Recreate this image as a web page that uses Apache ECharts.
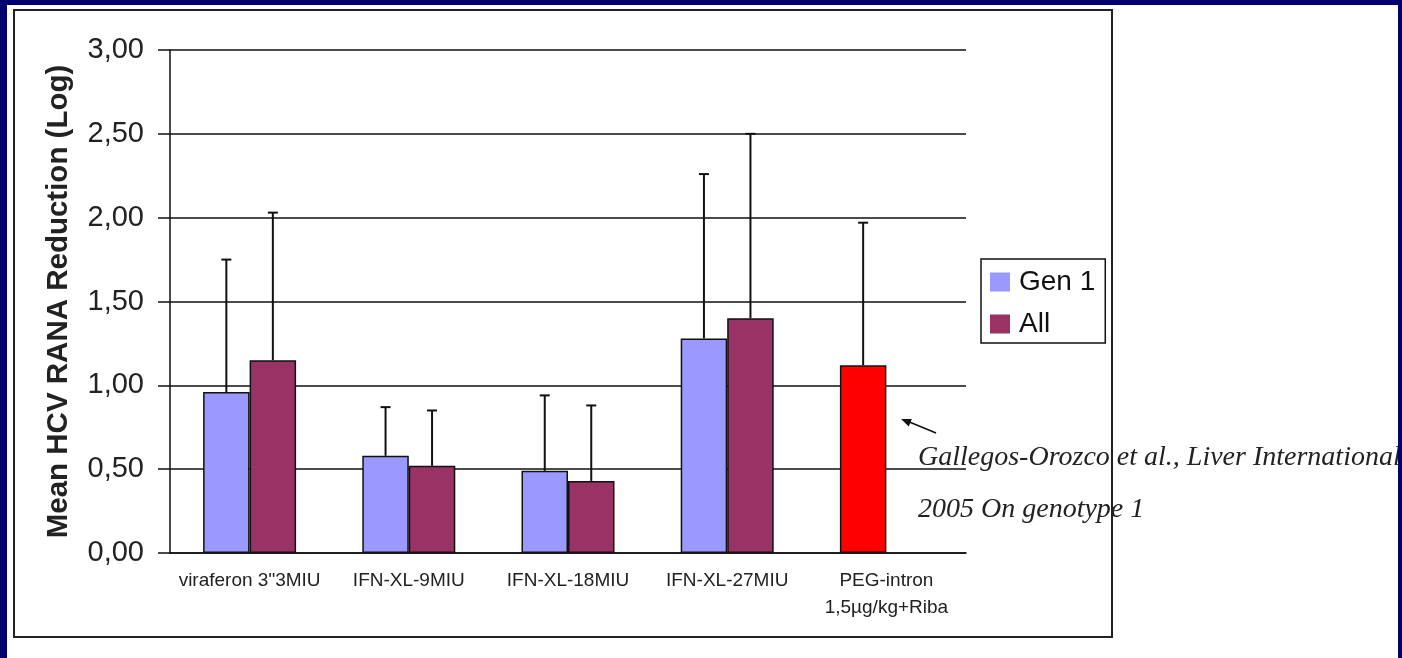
<!DOCTYPE html>
<html lang="en">
<head>
    <meta charset="UTF-8">
    <title>Mean HCV RANA Reduction</title>
    <script src="https://cdn.jsdelivr.net/npm/echarts/dist/echarts.min.js"></script>
    <style>
        body { margin: 0; background: #fff; }
        #chart { position: absolute; left: 0; top: 0; width: 1402px; height: 658px; }
        .navy { position: absolute; background: #000070; pointer-events: none; z-index: 5; }
    </style>
</head>
<body>
    <div id="chart"></div>
    <div class="navy" style="left:0;top:0;width:1402px;height:5px;"></div>
    <div class="navy" style="left:0;top:0;width:7px;height:658px;"></div>
    <div class="navy" style="left:1398px;top:0;width:4px;height:658px;"></div>

    <script>
        // values
        const categories = ['viraferon 3"3MIU', 'IFN-XL-9MIU', 'IFN-XL-18MIU', 'IFN-XL-27MIU', 'PEG-intron\n1,5µg/kg+Riba'];
        const gen1Values = [0.96, 0.58, 0.49, 1.28, 1.12];
        const allValues = [1.15, 0.52, 0.43, 1.40, null];
        // upper end of the error bars
        const gen1Upper = [1.75, 0.87, 0.94, 2.26, 1.97];
        const allUpper = [2.03, 0.85, 0.88, 2.50, null];
        const yTicks = [0, 0.5, 1, 1.5, 2, 2.5, 3];
        const redIndex = 4;

        const BAR_W = 46.5;

        let chart = echarts.init(document.getElementById('chart'));

        function errorBars(side) {
            return function (params, api) {
                let idx = api.value(0);
                let top = api.value(2);
                let p0 = api.coord([idx, api.value(1)]);
                let p1 = api.coord([idx, top]);
                let x = p0[0] + side * BAR_W / 2;
                let st = { stroke: '#111', lineWidth: 2 };
                return {
                    type: 'group',
                    children: [
                        { type: 'line', shape: { x1: x, y1: p0[1], x2: x, y2: p1[1] }, style: st },
                        { type: 'line', shape: { x1: x - 5, y1: p1[1], x2: x + 5, y2: p1[1] }, style: st }
                    ]
                };
            };
        }

        function errData(vals, ups) {
            let out = [];
            vals.forEach((v, i) => {
                if (v != null && ups[i] != null) out.push([i, v, ups[i]]);
            });
            return out;
        }

        let gen1Data = gen1Values.map((v, i) => i === redIndex
            ? { value: v, itemStyle: { color: '#ff0000' } }
            : v);

        let option = {
            animation: false,
            backgroundColor: '#fff',
            grid: { left: 170, top: 50, right: 436, bottom: 105 },
            legend: {
                data: ['Gen 1', 'All'],
                orient: 'vertical',
                left: 981,
                top: 259,
                padding: [8, 10, 4, 9],
                itemWidth: 20,
                itemHeight: 19,
                itemGap: 12,
                borderColor: '#111',
                borderWidth: 1.5,
                icon: 'rect',
                itemStyle: { borderWidth: 0 },
                textStyle: {
                    fontFamily: 'Liberation Sans, Arial',
                    fontSize: 28,
                    color: '#111',
                    lineHeight: 30,
                    padding: [0, 0, 0, 4]
                }
            },
            xAxis: {
                type: 'category',
                data: categories,
                axisLine: { lineStyle: { color: '#111', width: 1.5 } },
                axisTick: { length: 6, lineStyle: { color: '#111', width: 1.5 } },
                axisLabel: {
                    fontFamily: 'Liberation Sans, Arial',
                    fontSize: 19,
                    color: '#222',
                    lineHeight: 27,
                    margin: 14,
                    interval: 0
                }
            },
            yAxis: {
                type: 'value',
                min: 0,
                max: 3,
                interval: 0.5,
                name: 'Mean HCV RANA Reduction (Log)',
                nameLocation: 'middle',
                nameGap: 96,
                nameTextStyle: {
                    fontFamily: 'Liberation Sans, Arial',
                    fontSize: 29.5,
                    fontWeight: 'bold',
                    color: '#222'
                },
                axisLine: { show: true, lineStyle: { color: '#111', width: 1.5 } },
                axisTick: { show: true, length: 12, lineStyle: { color: '#111', width: 1.5 } },
                splitLine: { lineStyle: { color: '#111', width: 1.6 } },
                axisLabel: {
                    fontFamily: 'Liberation Sans, Arial',
                    fontSize: 29,
                    color: '#222',
                    margin: 26,
                    formatter: v => yTicks.indexOf(v) >= 0 ? v.toFixed(2).replace('.', ',') : ''
                }
            },
            series: [
                {
                    name: 'Gen 1',
                    type: 'bar',
                    data: gen1Data,
                    barWidth: BAR_W,
                    barGap: '0%',
                    itemStyle: { color: '#9999ff', borderColor: '#111', borderWidth: 1.5 }
                },
                {
                    name: 'All',
                    type: 'bar',
                    data: allValues,
                    barWidth: BAR_W,
                    barGap: '0%',
                    itemStyle: { color: '#993366', borderColor: '#111', borderWidth: 1.5 }
                },
                {
                    type: 'custom',
                    renderItem: errorBars(-1),
                    data: errData(gen1Values, gen1Upper),
                    encode: { x: 0, y: [1, 2] },
                    z: 5
                },
                {
                    type: 'custom',
                    renderItem: errorBars(1),
                    data: errData(allValues, allUpper),
                    encode: { x: 0, y: [1, 2] },
                    z: 5
                }
            ],
            graphic: [
                {
                    type: 'rect',
                    shape: { x: 14, y: 10, width: 1098, height: 627 },
                    style: { fill: null, stroke: '#222', lineWidth: 2 },
                    z: -1
                },
                {
                    type: 'line',
                    shape: { x1: 936, y1: 433, x2: 907, y2: 421 },
                    style: { stroke: '#111', lineWidth: 1.5 }
                },
                {
                    type: 'polygon',
                    shape: { points: [[901, 419], [911.8, 419.1], [908.8, 426.5]] },
                    style: { fill: '#111' }
                },
                {
                    type: 'text',
                    left: 918,
                    top: 444,
                    style: {
                        text: 'Gallegos-Orozco et al., Liver International',
                        font: 'italic 28px "Liberation Serif", "Times New Roman", serif',
                        fill: '#222'
                    },
                    z: 10
                },
                {
                    type: 'text',
                    left: 918,
                    top: 496,
                    style: {
                        text: '2005 On genotype 1',
                        font: 'italic 28px "Liberation Serif", "Times New Roman", serif',
                        fill: '#222'
                    },
                    z: 10
                }
            ]
        };

        chart.setOption(option);
    </script>
</body>
</html>
